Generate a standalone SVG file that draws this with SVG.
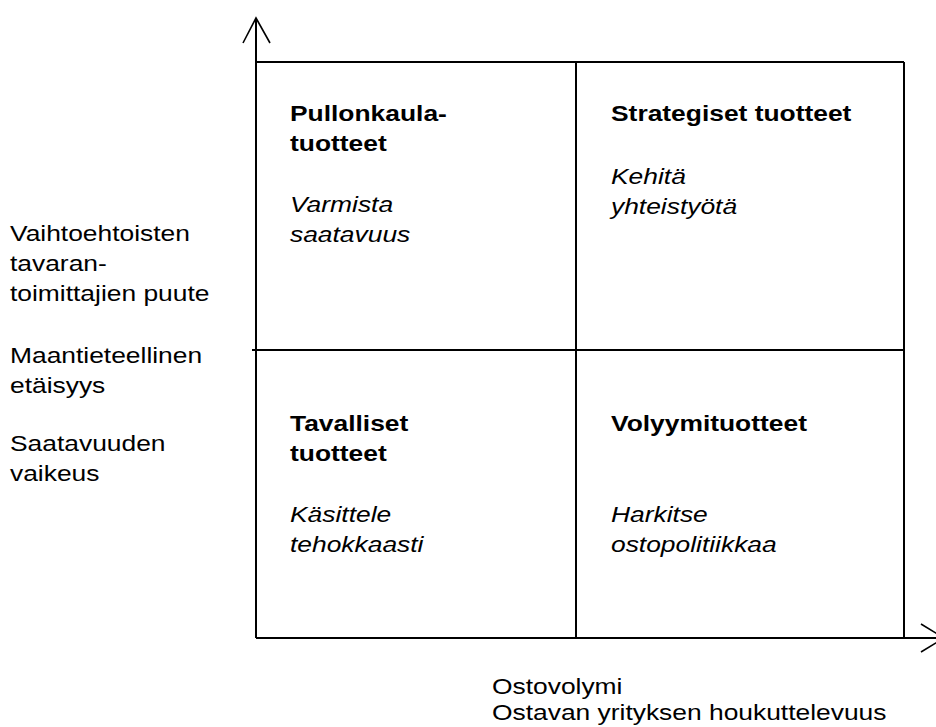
<svg xmlns="http://www.w3.org/2000/svg" width="936" height="727" viewBox="0 0 936 727">
  <style>
    .line { stroke: #000; stroke-width: 2; fill: none; }
    .head { stroke: #000; stroke-width: 1.6; fill: none; }
    text { font-family: "Liberation Sans", Arial, sans-serif; font-size: 22px; fill: #000; }
    .title { font-weight: bold; }
    .action { font-style: italic; }
  </style>
  <rect width="936" height="727" fill="#fff"/>

  <!-- axes and quadrant grid -->
  <g id="connectors">
    <line class="line" x1="256" y1="18" x2="256" y2="638"/>
    <line class="line" x1="256" y1="638" x2="944" y2="638"/>
    <line class="line" x1="256" y1="62" x2="904" y2="62"/>
    <line class="line" x1="904" y1="62" x2="904" y2="638"/>
    <line class="line" x1="576" y1="62" x2="576" y2="638"/>
    <line class="line" x1="252" y1="350" x2="904" y2="350"/>
    <polyline class="head" points="243,43 256,18 270,43"/>
    <polyline class="head" points="921,624 944,638 921,652"/>
  </g>

  <!-- vertical axis criteria -->
  <g id="y-axis-label">
    <text transform="translate(10,241) scale(1.2,1)">Vaihtoehtoisten</text>
    <text transform="translate(10,271) scale(1.2,1)">tavaran-</text>
    <text transform="translate(10,301) scale(1.2,1)">toimittajien puute</text>
    <text transform="translate(10,363) scale(1.2,1)">Maantieteellinen</text>
    <text transform="translate(10,393) scale(1.2,1)">etäisyys</text>
    <text transform="translate(10,451) scale(1.2,1)">Saatavuuden</text>
    <text transform="translate(10,481) scale(1.2,1)">vaikeus</text>
  </g>

  <!-- horizontal axis criteria -->
  <g id="x-axis-label">
    <text transform="translate(492,694) scale(1.2,1)">Ostovolymi</text>
    <text transform="translate(492,720) scale(1.2,1)">Ostavan yrityksen houkuttelevuus</text>
  </g>

  <g id="bottleneck">
    <text class="title" transform="translate(290,121) scale(1.2,1)">Pullonkaula-</text>
    <text class="title" transform="translate(290,151) scale(1.2,1)">tuotteet</text>
    <text class="action" transform="translate(290,212) scale(1.2,1)">Varmista</text>
    <text class="action" transform="translate(290,242) scale(1.2,1)">saatavuus</text>
  </g>

  <g id="strategic">
    <text class="title" transform="translate(611,121) scale(1.2,1)">Strategiset tuotteet</text>
    <text class="action" transform="translate(611,184) scale(1.2,1)">Kehitä</text>
    <text class="action" transform="translate(611,214) scale(1.2,1)">yhteistyötä</text>
  </g>

  <g id="routine">
    <text class="title" transform="translate(290,431) scale(1.2,1)">Tavalliset</text>
    <text class="title" transform="translate(290,461) scale(1.2,1)">tuotteet</text>
    <text class="action" transform="translate(290,522) scale(1.2,1)">Käsittele</text>
    <text class="action" transform="translate(290,552) scale(1.2,1)">tehokkaasti</text>
  </g>

  <g id="leverage">
    <text class="title" transform="translate(611,431) scale(1.2,1)">Volyymituotteet</text>
    <text class="action" transform="translate(611,522) scale(1.2,1)">Harkitse</text>
    <text class="action" transform="translate(611,552) scale(1.2,1)">ostopolitiikkaa</text>
  </g>
</svg>
